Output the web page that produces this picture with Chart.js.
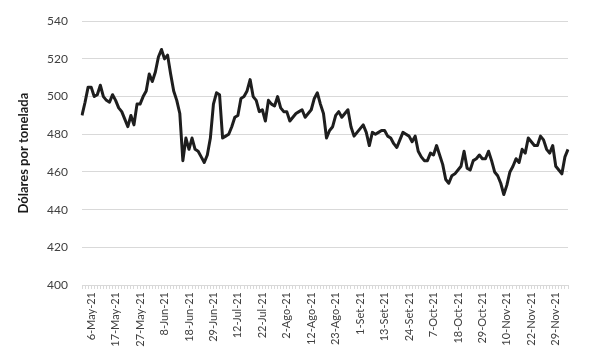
<!DOCTYPE html>
<html>
<head>
<meta charset="utf-8">
<script src="https://cdn.jsdelivr.net/npm/chart.js@4"></script>
<style>
  html, body { margin: 0; padding: 0; background: #ffffff; }
  #contenedor { width: 596px; height: 356px; }
</style>
</head>
<body>
<div id="contenedor"><canvas id="MiGraficaPrecio" width="596" height="356"></canvas></div>
<script>

// precio diario, 3-May-21 a 3-Dic-21 (una cifra por dia habil)
var precios = [
  490, 497, 505, 505, 500, 501, 506, 500, 498, 497,
  501, 498, 494, 492, 488, 484, 490, 485, 496, 496,
  500, 503, 512, 508, 513, 521, 525, 520, 522, 512,
  503, 498, 491, 466, 478, 472, 478, 472, 471, 468,
  465, 469, 478, 496, 502, 501, 478, 479, 480, 484,
  489, 490, 499, 500, 503, 509, 500, 498, 492, 493,
  487, 498, 496, 495, 500, 494, 492, 492, 487, 489,
  491, 492, 493, 489, 491, 493, 499, 502, 496, 491,
  478, 482, 484, 490, 492, 489, 491, 493, 484, 479,
  481, 483, 485, 481, 474, 481, 480, 481, 482, 482,
  479, 478, 475, 473, 477, 481, 480, 479, 476, 479,
  471, 468, 466, 466, 470, 469, 474, 469, 464, 456,
  454, 458, 459, 461, 463, 471, 462, 461, 466, 467,
  469, 467, 467, 471, 466, 460, 458, 454, 448, 453,
  460, 463, 467, 465, 472, 470, 478, 476, 474, 474,
  479, 477, 472, 470, 474, 463, 461, 459, 468, 472
];

// etiquetas del eje x, una cada 8 dias empezando en el dia 3
var fechasEje = ['6-May-21', '17-May-21', '27-May-21', '8-Jun-21', '18-Jun-21', '29-Jun-21',
  '12-Jul-21', '22-Jul-21', '2-Ago-21', '12-Ago-21', '23-Ago-21', '1-Set-21', '13-Set-21',
  '24-Set-21', '7-Oct-21', '18-Oct-21', '29-Oct-21', '10-Nov-21', '22-Nov-21', '29-Nov-21'];
var primeraEtiqueta = 3;
var pasoEtiqueta = 8;

var ticksY = [400, 420, 440, 460, 480, 500, 520, 540];

function armarEtiquetas(){
  var labelsList = new Array();
  for (var i = 0; i < precios.length; i++) {
    var k = (i - primeraEtiqueta) / pasoEtiqueta;
    if (i >= primeraEtiqueta && k === Math.floor(k) && k < fechasEje.length) {
      labelsList.push(fechasEje[k]);
    } else {
      labelsList.push('');
    }
  }
  return labelsList;
}

function cargarGraficaPrecio(){

  var miCanvas = document.getElementById("MiGraficaPrecio").getContext("2d");
  var fuente = "Lato, 'Open Sans', sans-serif";

  var grafica = new Chart(miCanvas, {
    type: "line",
    data: {
      labels: armarEtiquetas(),
      datasets: [{
        label: "Precio",
        data: precios,
        borderColor: '#1e1e1e',
        backgroundColor: '#1e1e1e',
        borderWidth: 3,
        pointRadius: 0,
        tension: 0,
        borderJoinStyle: 'round'
      }]
    },
    options: {
      responsive: false,
      animation: false,
      layout: { padding: { top: 10, right: 28, bottom: 6, left: 4 } },
      plugins: {
        legend: { display: false },
        tooltip: { enabled: false }
      },
      scales: {
        x: {
          offset: false,
          grid: { drawOnChartArea: false, drawTicks: true, tickLength: 4, color: '#d9d9d9' },
          border: { display: true, color: '#d9d9d9' },
          ticks: {
            autoSkip: false,
            minRotation: 90,
            maxRotation: 90,
            padding: 3,
            color: '#404040',
            font: { family: fuente, size: 11 }
          },
          afterFit: function(scale){ scale.height = 65; }
        },
        y: {
          min: 400,
          max: 540,
          afterBuildTicks: function(scale){
            scale.ticks = ticksY.map(function(v){ return { value: v }; });
          },
          grid: { color: '#d9d9d9', lineWidth: 1, drawTicks: false },
          border: { display: false },
          ticks: {
            padding: 14,
            color: '#404040',
            font: { family: fuente, size: 12 }
          },
          title: {
            display: true,
            text: 'Dólares por tonelada',
            color: '#1a1a1a',
            padding: { top: 12, bottom: 0 },
            font: { family: fuente, size: 13, weight: 'bold' }
          },
          afterFit: function(scale){ scale.width = 78; }
        }
      }
    }
  });

}

cargarGraficaPrecio();

</script>
</body>
</html>
